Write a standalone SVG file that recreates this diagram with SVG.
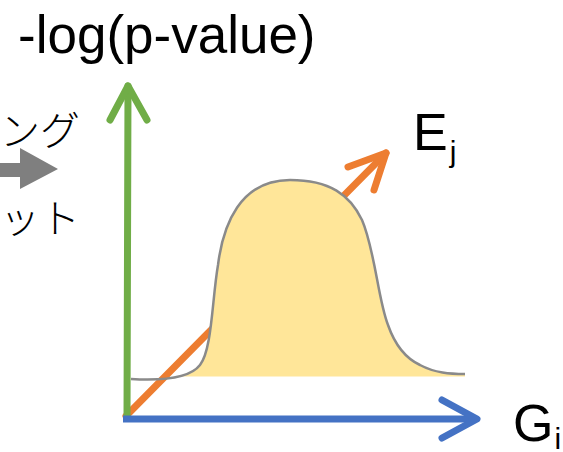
<svg xmlns="http://www.w3.org/2000/svg" width="563" height="452" viewBox="0 0 563 452">
<style>
.lbl{font-family:"Liberation Sans",Arial,sans-serif;fill:#000}
.jp{font-family:"Noto Sans CJK JP","Noto Sans",sans-serif;fill:#000;font-size:40px;font-weight:300}
.ax{fill:none;stroke-linecap:round;stroke-linejoin:round}
</style>
<defs>
<clipPath id="cut"><rect x="0" y="0" width="563" height="376.5"/></clipPath>
</defs>
<rect width="563" height="452" fill="#fff"/>
<g id="left-text">
<text class="jp" x="80" y="145" text-anchor="end">ング</text>
<text class="jp" x="80" y="233" text-anchor="end">ット</text>
<polygon points="-5,163 20,163 20,148 58,169 20,189 20,177 -5,177" fill="#7f7f7f"/>
</g>
<g id="connectors">
<g id="axis-e">
<line class="ax" x1="126" y1="416" x2="386" y2="153" stroke="#ED7D31" stroke-width="7"/>
<polyline class="ax" points="348,167 386,153 374,190" stroke="#ED7D31" stroke-width="7"/>
</g>
</g>
<g id="distribution">
<path clip-path="url(#cut)" fill="#FFE699" d="M131,379 C165,381 190,378 200,365 C212,350 212,300 218,265 C223,225 240,180 290,180 C330,180 350,195 362,220 C375,250 378,300 388,325 C395,345 405,358 420,365 C435,373 450,374 465,374 L465,380 L131,380 Z"/>
<path fill="none" stroke="#8a8a8a" stroke-width="2.5" d="M131,379 C165,381 190,378 200,365 C212,350 212,300 218,265 C223,225 240,180 290,180 C330,180 350,195 362,220 C375,250 378,300 388,325 C395,345 405,358 420,365 C435,373 450,374 465,374"/>
</g>
<g id="axis-y">
<line class="ax" x1="127" y1="418" x2="128" y2="86" stroke="#70AD47" stroke-width="7"/>
<polyline class="ax" points="110,120 128,86 147,120" stroke="#70AD47" stroke-width="7"/>
</g>
<g id="axis-x">
<line x1="123" y1="419" x2="476" y2="419" stroke="#4472C4" stroke-width="7"/>
<polyline class="ax" points="442,400 477,419 442,438" stroke="#4472C4" stroke-width="7"/>
</g>
<g id="label-y"><text class="lbl" x="18" y="53" font-size="53">-log(p-value)</text></g>
<g id="label-e"><text class="lbl" x="413" y="150" font-size="52">E<tspan font-size="30" dx="2" dy="12">j</tspan></text></g>
<g id="label-g"><text class="lbl" x="513" y="441" font-size="52">G<tspan font-size="30" dx="1" dy="8">i</tspan></text></g>
</svg>
